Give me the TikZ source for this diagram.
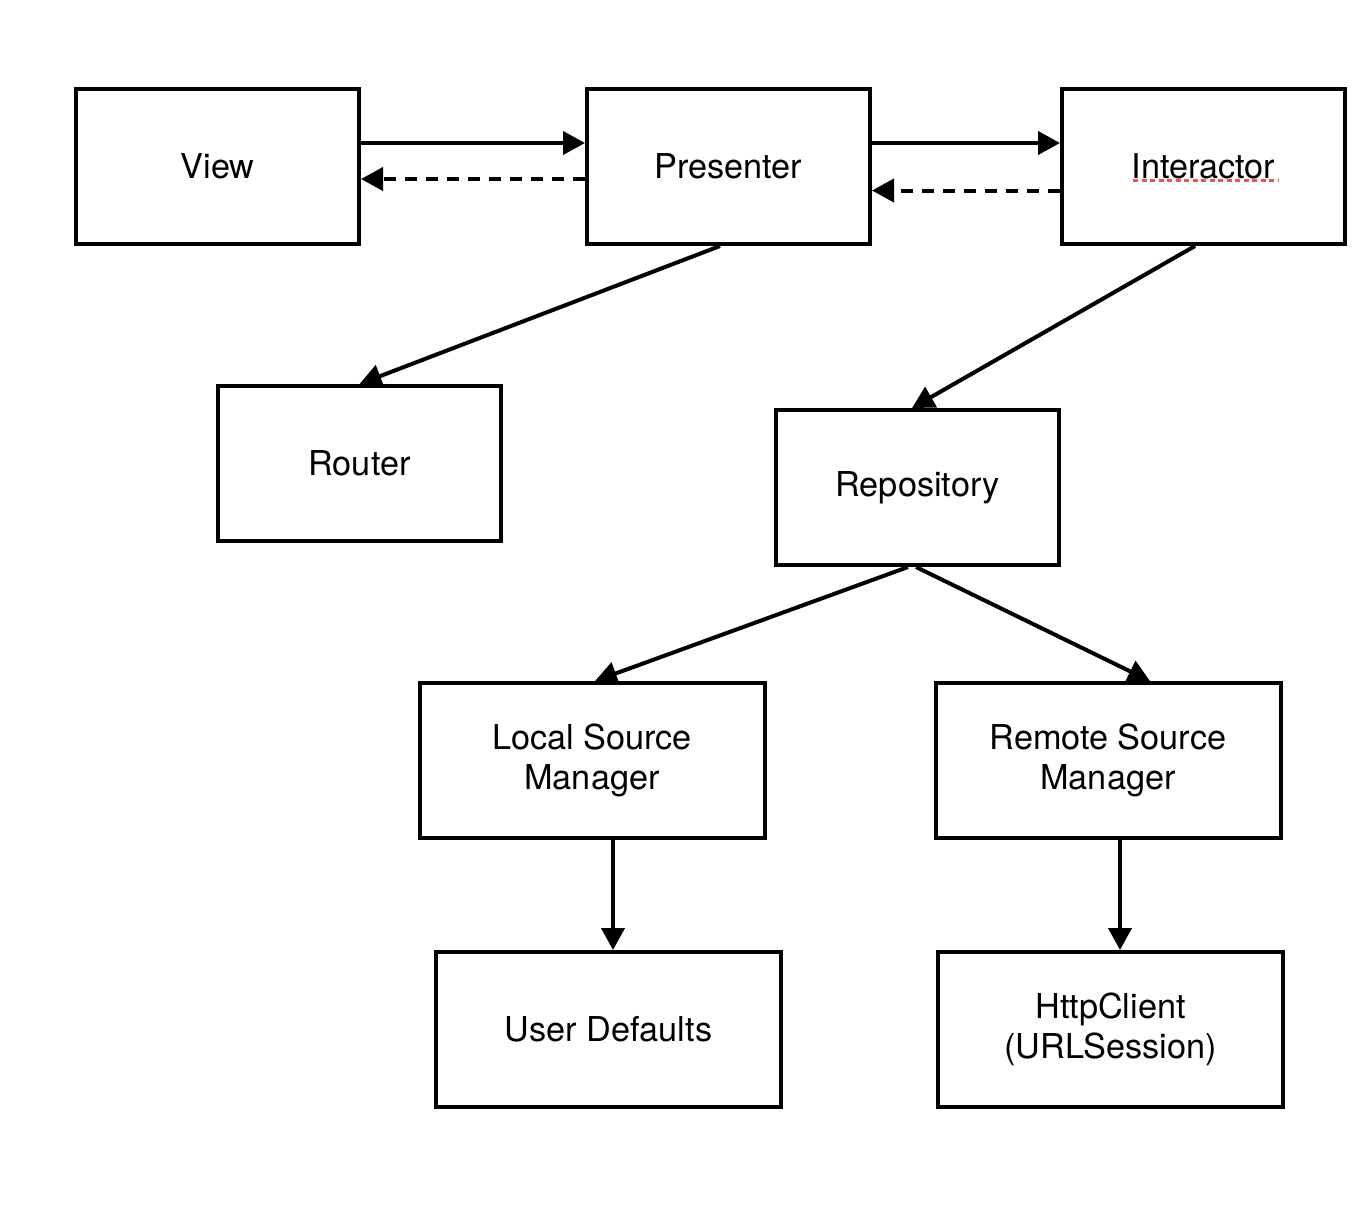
\documentclass[tikz,border=0pt]{standalone}
\usepackage{fontspec}
\setmainfont{TeX Gyre Heros}
\usepackage{xcolor}
\usepackage{tikz}
\usetikzlibrary{shapes,positioning,arrows.meta}
\definecolor{spellred}{HTML}{E8564E}
\tikzset{rec/.style={rectangle,draw,line width=0.08cm,minimum height=3.1cm,minimum width=5.66cm,inner sep=0.2cm,align=center,font=\fontsize{19.5}{22.8}\selectfont}}
\tikzset{wrec/.style={rec,minimum width=6.9cm}}
\tikzset{ln/.style={line width=0.08cm}}
\tikzset{dsh/.style={ln,dash pattern=on 0.24cm off 0.18cm}}

\begin{document}
\begin{tikzpicture}[>={Triangle[length=0.44cm,width=0.46cm]}]
    \useasboundingbox (0,0) rectangle (27.36,-24.12);
    \node[rec] (view)at (4.35,-3.33) {View};
    \node[rec] (presenter)at (14.57,-3.33) {Presenter};
    \node[rec] (interactor)at (24.07,-3.33) {Interactor};
    \node[rec] (router)at (7.19,-9.27) {Router};
    \node[rec] (repository)at (18.35,-9.75) {Repository};
    \node[wrec] (local)at (11.84,-15.21) {Local Source\\Manager};
    \node[wrec] (remote)at (22.16,-15.21) {Remote Source\\Manager};
    \node[wrec] (defaults)at (12.17,-20.59) {User Defaults};
    \node[wrec] (http)at (22.21,-20.59) {HttpClient\\(URLSession)};

    % spell check underline
    \coordinate (sl)at (22.66,-3.6);
    \coordinate (sr)at (25.58,-3.6);
    \draw [spellred,line width=0.06cm,dash pattern=on 0.1cm off 0.07cm] (sl) to (sr);

    \draw [ln,->] ([yshift=0.47cm]view.east) to ([yshift=0.47cm]presenter.west);
    \draw [dsh,->] ([yshift=-0.25cm]presenter.west) to ([yshift=-0.25cm]view.east);
    \draw [ln,->] ([yshift=0.47cm]presenter.east) to ([yshift=0.47cm]interactor.west);
    \draw [dsh,->] ([yshift=-0.48cm]interactor.west) to ([yshift=-0.48cm]presenter.east);
    \draw [ln,->] ([xshift=-0.17cm]presenter.south) to (router.north);
    \draw [ln,->] ([xshift=-0.17cm]interactor.south) to ([xshift=-0.11cm]repository.north);
    \draw [ln,->] ([xshift=-0.19cm]repository.south) to ([xshift=0.06cm]local.north);
    \draw [ln,->] ([xshift=-0.03cm]repository.south) to ([xshift=0.84cm]remote.north);
    \draw [ln,->] ([xshift=0.42cm]local.south) to ([xshift=0.09cm]defaults.north);
    \draw [ln,->] ([xshift=0.24cm]remote.south) to ([xshift=0.19cm]http.north);
\end{tikzpicture}
\end{document}
